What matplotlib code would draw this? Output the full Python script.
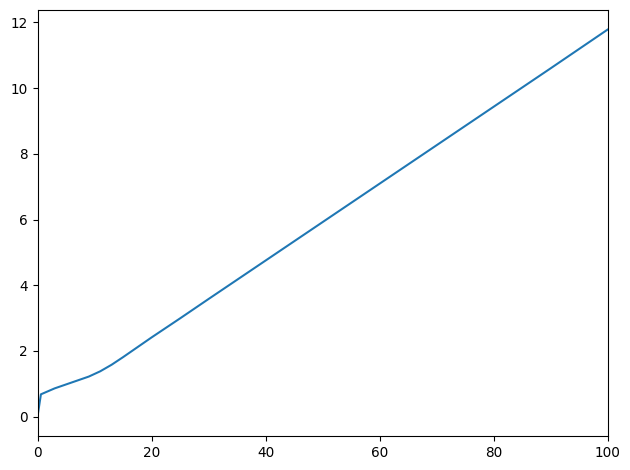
import matplotlib
matplotlib.use("Agg")
import matplotlib.pyplot as plt

# valores
x_vals = [0, 0.6, 3, 6, 9, 11, 13, 15, 17.5, 20, 25, 30, 40, 50, 60, 70, 80, 90, 100]
y_vals = [0, 0.68, 0.86, 1.04, 1.22, 1.38, 1.58, 1.81, 2.11, 2.41, 2.99, 3.58, 4.75, 5.92, 7.09, 8.26, 9.43, 10.6, 11.78]

dpi = 98.4
fig, ax = plt.subplots(figsize=(630 / dpi, 470 / dpi), dpi=dpi)
ax.plot(x_vals, y_vals)
ax.set_xlim(0, 100)
fig.subplots_adjust(left=37.5 / 630, right=607.5 / 630, top=1 - 10.3 / 470, bottom=1 - 436 / 470)
fig.savefig("out.png")
